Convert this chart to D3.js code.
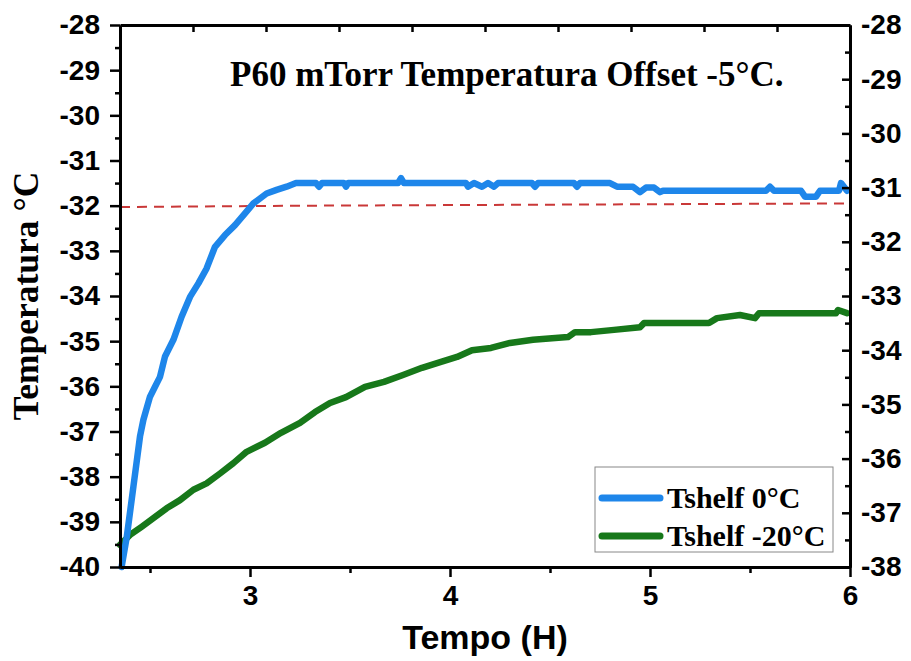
<!DOCTYPE html>
<html>
<head>
<meta charset="utf-8">
<script src="https://cdn.jsdelivr.net/npm/d3@7"></script>
<style>
  body { margin: 0; background: #fff; }
  svg { display: block; }
  .ax path { stroke: #000; stroke-width: 3; }
  .ax line { stroke: #000; stroke-width: 2.5; }
  .ax text { font-family: "Liberation Sans", Arial, sans-serif; font-weight: bold; font-size: 28px; fill: #000; }
</style>
</head>
<body>
<div id="chart"></div>
<script>
// tempo (h), temperatura (°C)
const blueT = [2.358, 2.384, 2.417, 2.45, 2.467, 2.5, 2.525, 2.55, 2.575, 2.617, 2.658, 2.70, 2.742, 2.783, 2.825, 2.875, 2.925, 2.975, 3.017, 3.083, 3.133, 3.183, 3.23, 3.33, 3.345, 3.36, 3.47, 3.48, 3.49, 3.74, 3.755, 3.77, 4.08, 4.09, 4.12, 4.16, 4.19, 4.22, 4.24, 4.41, 4.425, 4.44, 4.62, 4.635, 4.65, 4.80, 4.835, 4.915, 4.95, 4.98, 5.02, 5.05, 5.065, 5.58, 5.60, 5.62, 5.755, 5.775, 5.83, 5.85, 5.945, 5.955, 5.985];
const blueV = [-40.0, -39.33, -38.22, -37.11, -36.74, -36.23, -36.01, -35.79, -35.34, -34.97, -34.46, -34.02, -33.72, -33.39, -32.91, -32.65, -32.43, -32.17, -31.95, -31.73, -31.65, -31.58, -31.50, -31.50, -31.58, -31.50, -31.50, -31.58, -31.50, -31.50, -31.39, -31.50, -31.50, -31.58, -31.50, -31.58, -31.50, -31.58, -31.50, -31.50, -31.58, -31.50, -31.50, -31.58, -31.50, -31.50, -31.58, -31.58, -31.70, -31.60, -31.60, -31.70, -31.67, -31.67, -31.58, -31.67, -31.67, -31.80, -31.80, -31.67, -31.67, -31.50, -31.67];

const greenT = [2.35, 2.40, 2.458, 2.517, 2.583, 2.65, 2.717, 2.783, 2.85, 2.917, 2.983, 3.075, 3.155, 3.25, 3.325, 3.40, 3.48, 3.575, 3.67, 3.765, 3.86, 3.955, 4.035, 4.11, 4.205, 4.30, 4.415, 4.59, 4.625, 4.705, 4.82, 4.95, 4.97, 5.295, 5.335, 5.45, 5.525, 5.545, 5.93, 5.94, 5.985];
const greenV = [-39.51, -39.29, -39.11, -38.92, -38.70, -38.52, -38.29, -38.15, -37.93, -37.70, -37.45, -37.25, -37.03, -36.81, -36.57, -36.37, -36.24, -36.01, -35.90, -35.75, -35.59, -35.46, -35.35, -35.20, -35.15, -35.04, -34.97, -34.91, -34.80, -34.80, -34.75, -34.69, -34.60, -34.60, -34.49, -34.42, -34.49, -34.38, -34.38, -34.31, -34.38];

const refT = [2.35, 3.3, 6.0];
const refV = [-32.03, -32.0, -31.95];

const xTicks = [3, 4, 5, 6];
const xMinor = [2.5, 3.5, 4.5, 5.5];
const yLeftTicks = d3.range(-40, -27, 1);
const yRightTicks = d3.range(-38, -27, 1);

const seriesNames = ["Tshelf 0°C", "Tshelf -20°C"];
const seriesColors = ["#1e86ea", "#17781a"];
const title = "P60 mTorr Temperatura Offset -5°C.";

const W = 911, H = 661;
const m = { top: 25, right: 61, bottom: 94, left: 120 };

const svg = d3.select("#chart").append("svg")
  .attr("width", W).attr("height", H);
svg.append("rect").attr("width", W).attr("height", H).attr("fill", "#fff");

const x = d3.scaleLinear().domain([2.35, 6]).range([m.left, W - m.right]);
const y = d3.scaleLinear().domain([-40, -28]).range([H - m.bottom, m.top]);
const yR = d3.scaleLinear().domain([-38, -28]).range([H - m.bottom, m.top]);
const xTop = d3.scaleLinear().domain([0, 10]).range([m.left, W - m.right]);
const fmt = d => String(d);   // plain hyphen like the original

// dashed reference
const line = d3.line().x(d => x(d[0])).y(d => y(d[1]));
svg.append("path")
  .datum(refT.map((t, i) => [t, refV[i]]))
  .attr("d", line)
  .attr("fill", "none").attr("stroke", "#c93838").attr("stroke-width", 2)
  .attr("stroke-dasharray", "10,7");

const data = [d3.zip(blueT, blueV), d3.zip(greenT, greenV)];
svg.selectAll(".series").data(data.slice().reverse()).enter()
  .append("path")
  .attr("class", "series")
  .attr("d", line)
  .attr("fill", "none")
  .attr("stroke", (d, i) => seriesColors[1 - i])
  .attr("stroke-width", 6.5)
  .attr("stroke-linejoin", "round")
  .attr("stroke-linecap", "round");

// axes
const bottom = H - m.bottom, right = W - m.right;
svg.append("g").attr("class", "ax").attr("transform", `translate(0,${bottom})`)
  .call(d3.axisBottom(x).tickValues(xTicks).tickSize(10).tickSizeOuter(0).tickPadding(8).tickFormat(fmt));
svg.append("g").attr("class", "ax").attr("transform", `translate(0,${bottom})`)
  .call(d3.axisBottom(x).tickValues(xMinor).tickSize(6).tickSizeOuter(0).tickFormat(""));

svg.append("g").attr("class", "ax").attr("transform", `translate(${m.left},0)`)
  .call(d3.axisLeft(y).tickValues(yLeftTicks).tickSize(10).tickSizeOuter(0).tickPadding(10).tickFormat(fmt));
svg.append("g").attr("class", "ax").attr("transform", `translate(${m.left},0)`)
  .call(d3.axisLeft(y).tickValues(d3.range(-39.5, -28, 1)).tickSize(5).tickSizeOuter(0).tickFormat(""));

svg.append("g").attr("class", "ax").attr("transform", `translate(${right},0)`)
  .call(d3.axisRight(yR).tickValues(yRightTicks).tickSize(-8).tickSizeOuter(0).tickPadding(11).tickFormat(fmt));
svg.append("g").attr("class", "ax").attr("transform", `translate(${right},0)`)
  .call(d3.axisRight(yR).tickValues(d3.range(-37.5, -28, 1)).tickSize(-5).tickSizeOuter(0).tickFormat(""));

svg.append("g").attr("class", "ax").attr("transform", `translate(0,${m.top})`)
  .call(d3.axisTop(xTop).tickValues(d3.range(1, 10)).tickSize(-7).tickSizeOuter(0).tickFormat(""));

// labels
svg.append("text").text(title)
  .attr("x", 230).attr("y", 86)
  .style("font-family", "'Liberation Serif', 'Times New Roman', serif")
  .style("font-weight", "bold").style("font-size", "35px");

svg.append("text").text("Temperatura °C")
  .attr("transform", `translate(38,${(m.top + bottom) / 2}) rotate(-90)`)
  .attr("text-anchor", "middle")
  .style("font-family", "'Liberation Serif', 'Times New Roman', serif")
  .style("font-weight", "bold").style("font-size", "35.5px");

svg.append("text").text("Tempo (H)")
  .attr("x", 485).attr("y", 649)
  .attr("text-anchor", "middle")
  .style("font-family", "'Liberation Sans', Arial, sans-serif")
  .style("font-weight", "bold").style("font-size", "34px");

// legend
const lg = svg.append("g").attr("transform", "translate(595,467)");
lg.append("rect").attr("width", 238).attr("height", 85)
  .attr("fill", "#fff").attr("stroke", "#888").attr("stroke-width", 1);
seriesNames.forEach((name, i) => {
  const row = lg.append("g").attr("transform", `translate(0,${31 + i * 38})`);
  row.append("line").attr("x1", 7).attr("x2", 65)
    .attr("stroke", seriesColors[i]).attr("stroke-width", 7).attr("stroke-linecap", "round");
  row.append("text").text(name).attr("x", 72).attr("y", 10)
    .style("font-family", "'Liberation Serif', 'Times New Roman', serif")
    .style("font-weight", "bold").style("font-size", "30px");
});
</script>
</body>
</html>
